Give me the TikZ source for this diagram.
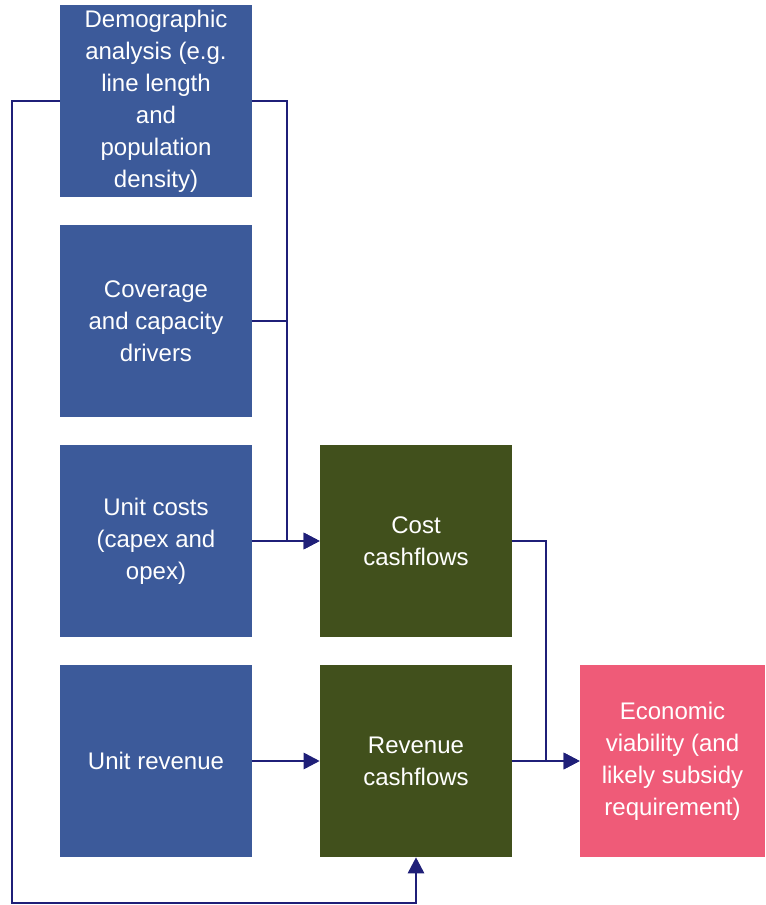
\documentclass[tikz,border=0pt]{standalone}
\usepackage{fontspec}
\setmainfont{Liberation Sans}
\usepackage{tikz}
\usetikzlibrary{arrows.meta}
\definecolor{boxblue}{HTML}{3C5A9A}
\definecolor{boxgreen}{HTML}{41501C}
\definecolor{boxpink}{HTML}{EF5B78}
\definecolor{linknavy}{HTML}{1F1F78}
\begin{document}
\begin{tikzpicture}[x=0.75pt,y=-0.75pt,
	every node/.style={minimum width=144pt,minimum height=144pt,inner sep=0pt,align=center,text=white,font=\fontsize{18}{24}\selectfont},
	inbox/.style={fill=boxblue},
	flowbox/.style={fill=boxgreen},
	resultbox/.style={fill=boxpink,minimum width=138.75pt},
	link/.style={draw=linknavy,line width=2pt},
	tip/.style={link,-{Triangle[length=12pt,width=12pt]}}]
	\useasboundingbox (0,0) rectangle (765,905);
	\node[inbox] (demo) at (156,101) {Demographic\\analysis (e.g.\\line length\\and\\population\\density)};
	\node[inbox] (cover) at (156,321) {Coverage\\and capacity\\drivers};
	\node[inbox] (ucost) at (156,541) {Unit costs\\(capex and\\opex)};
	\node[inbox] (urev) at (156,761) {Unit revenue};
	\node[flowbox] (cost) at (416,541) {Cost\\cashflows};
	\node[flowbox] (rev) at (416,761) {Revenue\\cashflows};
	\node[resultbox] (econ) at (672.5,761) {Economic\\viability (and\\likely subsidy\\requirement)};
	
	\coordinate (jn) at (287,541);
	\coordinate (jr) at (546,761);
	\coordinate (lft) at (12,903);
	
	\draw[tip] (demo.east) -| (jn) -- (cost.west);
	\draw[link] (cover.east) -- (cover.east -| jn);
	\draw[tip] (ucost.east) -- (cost.west);
	\draw[tip] (demo.west) -| (lft) -| (rev.south);
	\draw[tip] (urev.east) -- (rev.west);
	\draw[tip] (cost.east) -| (jr) -- (econ.west);
	\draw[tip] (rev.east) -- (econ.west);
	
\end{tikzpicture}
\end{document}
